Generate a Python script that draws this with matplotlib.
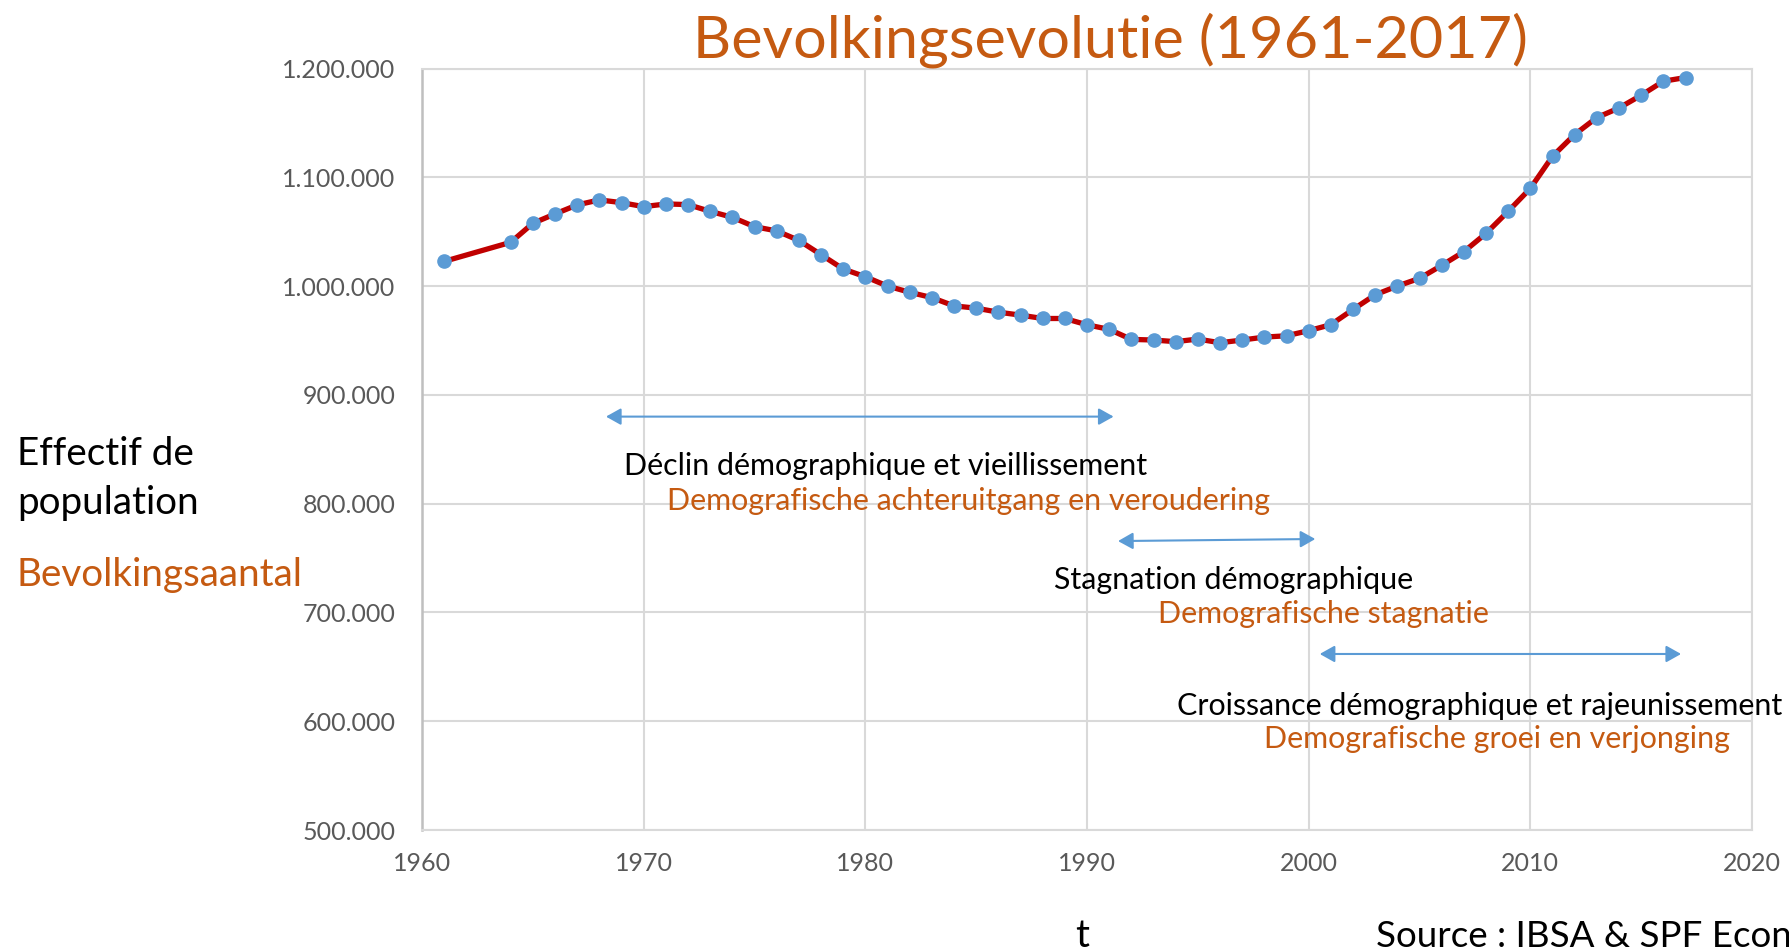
import matplotlib
matplotlib.use("Agg")
import matplotlib.pyplot as plt

# ---- data ----
years = [1961, 1964, 1965, 1966, 1967, 1968, 1969, 1970, 1971, 1972, 1973, 1974,
         1975, 1976, 1977, 1978, 1979, 1980, 1981, 1982, 1983, 1984, 1985, 1986,
         1987, 1988, 1989, 1990, 1991, 1992, 1993, 1994, 1995, 1996, 1997, 1998,
         1999, 2000, 2001, 2002, 2003, 2004, 2005, 2006, 2007, 2008, 2009, 2010,
         2011, 2012, 2013, 2014, 2015, 2016, 2017]
population = [1022700, 1040200, 1057700, 1066300, 1074600, 1079200, 1076700,
              1073000, 1075500, 1074900, 1068700, 1063200, 1054600, 1050700,
              1042000, 1028900, 1015700, 1008600, 1000000, 994300, 989400,
              981800, 979700, 976000, 973300, 970200, 970200, 964400, 960200,
              951000, 950400, 948900, 951300, 947900, 950400, 953100, 954300,
              959000, 964500, 978500, 992000, 1000000, 1007100, 1019000,
              1031600, 1048400, 1068700, 1089800, 1119300, 1139300, 1154900,
              1163700, 1175400, 1188300, 1191700]

x_ticks = [1960, 1970, 1980, 1990, 2000, 2010, 2020]
y_ticks = [500000, 600000, 700000, 800000, 900000, 1000000, 1100000, 1200000]

period_start = [1968.3, 1991.4, 2000.5]
period_end = [1991.2, 2000.3, 2016.8]
period_y_start = [880000, 765600, 661800]
period_y_end = [880000, 767500, 661800]
labels_fr = ["Déclin démographique et vieillissement",
             "Stagnation démographique",
             "Croissance démographique et rajeunissement"]
labels_nl = ["Demografische achteruitgang en veroudering",
             "Demografische stagnatie",
             "Demografische groei en verjonging"]

title = "Bevolkingsevolutie (1961-2017)"
ylabel_fr = ["Effectif de", "population"]
ylabel_nl = "Bevolkingsaantal"
xlabel = "t"
source = "Source : IBSA & SPF Economie"

# ---- style ----
ORANGE = "#C55A11"
RED = "#C00000"
BLUE = "#5B9BD5"
GRID = "#D9D9D9"
TICK = "#595959"
FONT = "Lato"

W, H = 1790, 952
fig = plt.figure(figsize=(W / 100, H / 100), dpi=100)
plt.rcParams['font.family'] = [FONT, 'DejaVu Sans']


def fpos(x, y):
    return x / W, 1 - y / H


ax = fig.add_axes([422 / W, 1 - 830 / H, (1752 - 422) / W, (830 - 68.5) / H])
ax.set_xlim(1960, 2020)
ax.set_ylim(500000, 1200000)
ax.set_xticks(x_ticks)
ax.set_yticks(y_ticks)
ax.set_xticklabels([str(v) for v in x_ticks])
ax.set_yticklabels([f"{v:,.0f}".replace(",", ".") for v in y_ticks])
ax.tick_params(axis='both', length=0, labelsize=18, labelcolor=TICK)
ax.tick_params(axis='y', pad=19)
ax.tick_params(axis='x', pad=16)
ax.grid(True, color=GRID, linewidth=1.5)
ax.set_axisbelow(True)
for s in ['top', 'right', 'bottom']:
    ax.spines[s].set_color(GRID)
    ax.spines[s].set_linewidth(1.5)
ax.spines['left'].set_color("#BFBFBF")
ax.spines['left'].set_linewidth(1.8)

ax.plot(years, population, color=RED, linewidth=3.8, marker='o',
        markersize=9.5, markerfacecolor=BLUE, markeredgecolor=BLUE, zorder=3)

# period arrows
for x0, x1, y0, y1 in zip(period_start, period_end, period_y_start, period_y_end):
    ax.annotate('', xy=(x1, y1), xytext=(x0, y0),
                arrowprops=dict(arrowstyle='<|-|>,head_length=0.5,head_width=0.28',
                                color=BLUE, lw=1.5, mutation_scale=18,
                                shrinkA=0, shrinkB=0))

# annotations (pixel positions of left edge / baseline)
fr_pos = [(624, 475), (1054, 589), (1177, 715)]
nl_pos = [(667, 510), (1158, 623), (1264, 748)]
for (x, y), t in zip(fr_pos, labels_fr):
    fig.text(*fpos(x, y), t, fontsize=21.9, color='black', ha='left', va='baseline')
for (x, y), t in zip(nl_pos, labels_nl):
    fig.text(*fpos(x, y), t, fontsize=21.9, color=ORANGE, ha='left', va='baseline')

fig.text(*fpos(1110, 57), title, fontsize=42.7, color=ORANGE, ha='center', va='baseline')
fig.text(*fpos(17, 465), ylabel_fr[0], fontsize=27.8, color='black', ha='left', va='baseline')
fig.text(*fpos(17, 514), ylabel_fr[1], fontsize=27.8, color='black', ha='left', va='baseline')
fig.text(*fpos(17, 586), ylabel_nl, fontsize=27.8, color=ORANGE, ha='left', va='baseline')
fig.text(*fpos(1082, 947), xlabel, fontsize=27.8, color='black', ha='center', va='baseline')
fig.text(*fpos(1376, 947), source, fontsize=26.5, color='black', ha='left', va='baseline')

fig.savefig("out.png", dpi=100)
